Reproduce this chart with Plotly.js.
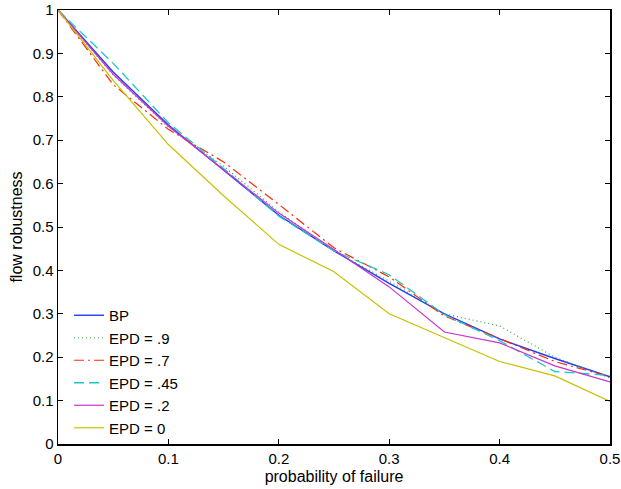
<!DOCTYPE html>
<html>
<head>
<meta charset="utf-8">
<script src="https://cdn.plot.ly/plotly-3.0.1.min.js"></script>
<style>html,body{margin:0;padding:0;background:#fff;}#chart{width:621px;height:489px;}</style>
</head>
<body>
<div id="chart"></div>
<script>
const xFail = [0, 0.05, 0.1, 0.15, 0.2, 0.25, 0.3, 0.35, 0.4, 0.45, 0.5];
const bp      = [1, 0.857, 0.735, 0.630, 0.527, 0.445, 0.370, 0.300, 0.242, 0.197, 0.155];
const epd90   = [1, 0.850, 0.730, 0.640, 0.535, 0.445, 0.375, 0.300, 0.272, 0.200, 0.152];
const epd70   = [1, 0.828, 0.725, 0.650, 0.552, 0.452, 0.385, 0.295, 0.243, 0.190, 0.155];
const epd45   = [1, 0.877, 0.740, 0.635, 0.525, 0.445, 0.390, 0.298, 0.238, 0.167, 0.158];
const epd20   = [1, 0.852, 0.732, 0.632, 0.532, 0.448, 0.362, 0.258, 0.233, 0.180, 0.143];
const epd00   = [1, 0.838, 0.690, 0.572, 0.460, 0.397, 0.300, 0.245, 0.190, 0.157, 0.098];
const seriesNames = ["BP", "EPD = .9", "EPD = .7", "EPD = .45", "EPD = .2", "EPD = 0"];
const xTicks = [0, 0.1, 0.2, 0.3, 0.4, 0.5];
const xTickText = ["0", "0.1", "0.2", "0.3", "0.4", "0.5"];
const yTicks = [0, 0.1, 0.2, 0.3, 0.4, 0.5, 0.6, 0.7, 0.8, 0.9, 1];
const yTickText = ["0", "0.1", "0.2", "0.3", "0.4", "0.5", "0.6", "0.7", "0.8", "0.9", "1"];

const ys = [bp, epd90, epd70, epd45, epd20, epd00];
const colors = ["#1f3cff", "#3aa83a", "#ff2a00", "#1ec8c8", "#cc33cc", "#c8c000"];
const dashes = ["solid", "1px,3px", "10px,4px,2px,4px", "10px,5px", "solid", "solid"];
const widths = [1.4, 1.2, 1.2, 1.3, 1.2, 1.2];

const traces = ys.map((y, i) => ({
  x: xFail, y: y, type: "scatter", mode: "lines", name: seriesNames[i],
  line: {color: colors[i], dash: dashes[i], width: widths[i]}
}));

const fam = "Liberation Sans, Arial, Helvetica, sans-serif";
const layout = {
  width: 621, height: 489,
  margin: {l: 58, r: 11, t: 10, b: 45},
  paper_bgcolor: "#fff", plot_bgcolor: "#fff",
  font: {family: fam, size: 15, color: "#000"},
  showlegend: true,
  legend: {x: 0.02, y: 0.0, xanchor: "left", yanchor: "bottom", bgcolor: "rgba(0,0,0,0)",
           font: {family: fam, size: 15, color: "#000"}, tracegroupgap: 0},
  xaxis: {
    range: [0, 0.5], tickvals: xTicks, ticktext: xTickText, ticks: "inside", ticklen: 5,
    tickcolor: "#000", showline: true, linecolor: "#000", linewidth: 1.5, mirror: "allticks",
    showgrid: false, zeroline: false,
    title: {text: "probability of failure", font: {size: 16}, standoff: 5},
    tickfont: {size: 15}
  },
  yaxis: {
    range: [0, 1], tickvals: yTicks, ticktext: yTickText, ticks: "inside", ticklen: 5,
    tickcolor: "#000", showline: true, linecolor: "#000", linewidth: 1.5, mirror: "allticks",
    showgrid: false, zeroline: false,
    title: {text: "flow robustness", font: {size: 16}, standoff: 6},
    tickfont: {size: 15}
  }
};
Plotly.newPlot("chart", traces, layout, {displayModeBar: false, staticPlot: true});
</script>
</body>
</html>
